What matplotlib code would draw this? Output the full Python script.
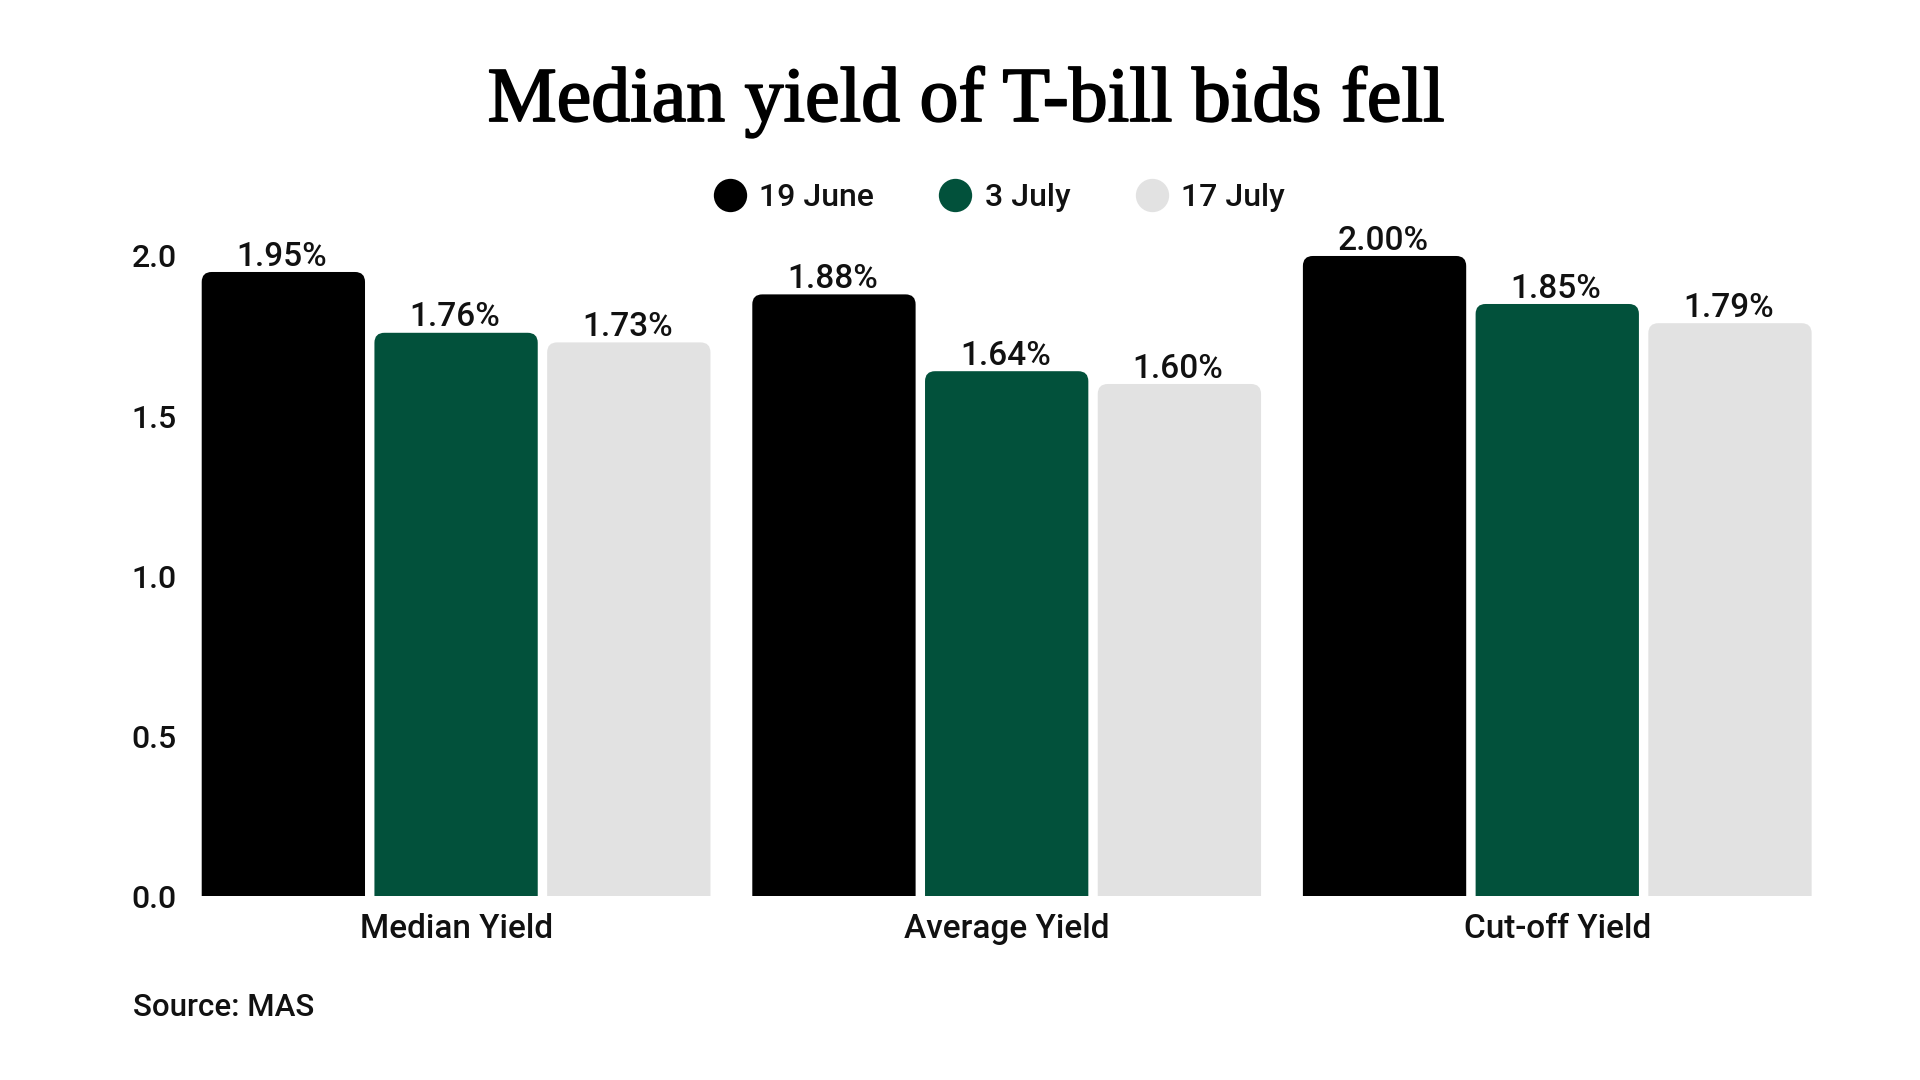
import matplotlib
matplotlib.use("Agg")
import matplotlib.pyplot as plt
from matplotlib.patches import FancyBboxPatch
from matplotlib.lines import Line2D
import matplotlib.patheffects as pe
import numpy as np

# ---- data ----
categories = ["Median Yield", "Average Yield", "Cut-off Yield"]
series_names = ["19 June", "3 July", "17 July"]
june19 = [1.95, 1.88, 2.00]
july3 = [1.76, 1.64, 1.85]
july17 = [1.73, 1.60, 1.79]
yticks = [0.0, 0.5, 1.0, 1.5, 2.0]
title = "Median yield of T-bill bids fell"
source = "Source: MAS"

series = [june19, july3, july17]
colors = ["#000000", "#02513B", "#E2E2E2"]

SANS = ["Roboto", "Inter", "DejaVu Sans"]
plt.rcParams["font.family"] = SANS
WEIGHT = "medium"
TXT = "#111111"

W, H = 1920, 1080
fig = plt.figure(figsize=(W / 100, H / 100), dpi=100)
fig.patch.set_facecolor("white")

AX_L, AX_B, AX_W, AX_H = 0.09416, 0.1703, 0.8603, 0.6075
YMAX = 2.05
ax = fig.add_axes([AX_L, AX_B, AX_W, AX_H])
ax.set_xlim(-0.5, 2.5)
ax.set_ylim(0, YMAX)

bar_w = 0.2966
step = 0.3137
x = np.arange(len(categories))

# pixel -> data conversions for rounded top corners
dx_per_px = 3.0 / (AX_W * W)
dy_per_px = YMAX / (AX_H * H)
r_px = 10
rx = r_px * dx_per_px
aspect = dy_per_px / dx_per_px
ry = r_px * dy_per_px

for i, (vals, col) in enumerate(zip(series, colors)):
    xs = x + (i - 1) * step
    for xc, v in zip(xs, vals):
        p = FancyBboxPatch((xc - bar_w / 2, -3 * ry), bar_w, v + 3 * ry,
                           boxstyle=f"round,pad=0,rounding_size={rx}",
                           mutation_aspect=aspect,
                           facecolor=col, edgecolor="none", linewidth=0)
        ax.add_patch(p)
        ax.annotate(f"{v:.2f}%", (xc, v), xytext=(-1, -0.5), textcoords="offset points",
                    ha="center", va="bottom", fontsize=24, color=TXT,
                    fontweight=WEIGHT)

for s in ax.spines.values():
    s.set_visible(False)
ax.set_yticks(yticks)
ax.set_yticklabels([f"{t:.1f}" for t in yticks])
ax.set_xticks(x)
ax.set_xticklabels(categories)
ax.tick_params(axis="y", length=0, pad=3, labelsize=23, labelcolor=TXT)
ax.tick_params(axis="x", length=0, pad=12, labelsize=24, labelcolor=TXT)
for lab in ax.get_xticklabels() + ax.get_yticklabels():
    lab.set_fontweight(WEIGHT)

# title
fig.text(0.503, 1 - 121 / H, title, ha="center", va="baseline",
         fontsize=56, family=["Liberation Serif", "DejaVu Serif"], color="#000000",
         path_effects=[pe.withStroke(linewidth=1.3, foreground="#000000")])

# legend
handles = [Line2D([0], [0], marker="o", linestyle="none", markersize=24,
                  markerfacecolor=c, markeredgecolor="none") for c in colors]
leg = fig.legend(handles, series_names, loc="center", bbox_to_anchor=(0.5205, 1 - 198 / H),
                 ncol=3, frameon=False, fontsize=23, handlelength=1.0,
                 handletextpad=0.42, columnspacing=2.05, borderpad=0)
for t in leg.get_texts():
    t.set_color(TXT)
    t.set_fontweight(WEIGHT)

fig.text(133 / W, 1 - 1007 / H, source, ha="left", va="center", fontsize=22.5,
         color=TXT, fontweight=WEIGHT)

fig.savefig("out.png", dpi=100, facecolor="white")
